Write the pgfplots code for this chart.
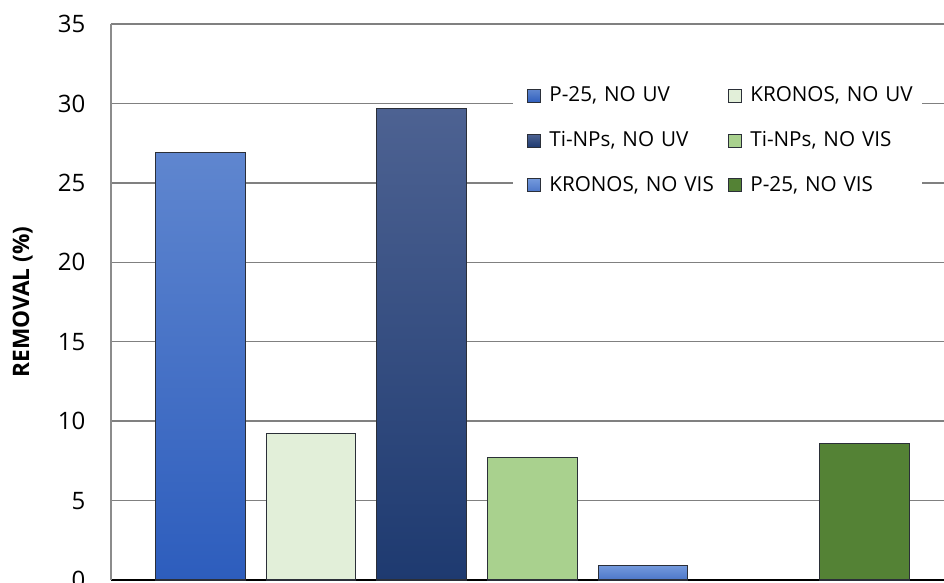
\documentclass[border=0pt]{standalone}
\usepackage{pgfplots}
\pgfplotsset{compat=1.18}
\usepackage{fontspec}
\setmainfont{Open Sans}

% bar fills
\definecolor{pTwentyFiveTop}{HTML}{5F86CF}
\definecolor{pTwentyFiveBot}{HTML}{2D5DBD}
\definecolor{kronosUV}{HTML}{E2EFD9}
\definecolor{tinpTop}{HTML}{4D6292}
\definecolor{tinpBot}{HTML}{1E3A70}
\definecolor{tinpVIS}{HTML}{A9D18E}
\definecolor{kronosVisTop}{HTML}{7399DC}
\definecolor{kronosVisBot}{HTML}{4C76C8}
\definecolor{pTwentyFiveVIS}{HTML}{548235}
\definecolor{barBorder}{HTML}{2B2F38}
\definecolor{gridGray}{HTML}{808080}
\definecolor{axisGray}{HTML}{8C8C8C}

\begin{document}
\begin{tikzpicture}
\begin{axis}[
  at={(0,0)}, anchor=south west,
  scale only axis, width=625pt, height=417pt,
  xmin=-0.81, xmax=6.72, ymin=0, ymax=35,
  ybar, bar width=0.81, bar shift=0pt,
  xtick=\empty,
  ytick={0,5,...,35},
  ytick style={draw=none},
  ymajorgrids,
  major grid style={color=gridGray, line width=1pt},
  axis x line*=bottom, axis y line*=left,
  x axis line style={-, black, line width=1.4pt},
  y axis line style={-, axisGray, line width=1.7pt},
  /pgf/number format/assume math mode=true,
  yticklabel style={anchor=east, inner sep=0pt, xshift=-18.8pt,
    font=\fontsize{18}{21}\selectfont},
  ylabel={REMOVAL (\%)},
  ylabel style={at={(axis description cs:-0.1056,0.5)}, anchor=center,
    font=\fontsize{17}{20}\selectfont\bfseries},
  legend columns=2,
  legend cell align=left,
  legend image code/.code={%
    \path (0pt,0pt) (16.25pt,0pt);
    \draw[#1] (6.5pt,-4.9pt) rectangle (16.25pt,4.9pt);},
  legend style={at={(0.4828,0.907)}, anchor=north west,
    draw=none, fill=white, inner xsep=4pt, inner ysep=7.5pt,
    row sep=17.9pt,
    font=\fontsize{15.5}{18}\selectfont,
    nodes={inner xsep=0pt, inner ysep=0pt, text height=12pt,
      text depth=3.5pt, text width=124.5pt, align=left, anchor=west},
    /tikz/every odd column/.append style={column sep=6pt},
    /tikz/column 2/.append style={column sep=3.2pt}},
]
\addplot[draw=barBorder, line width=0.8pt,
  top color=pTwentyFiveTop, bottom color=pTwentyFiveBot]
  coordinates {(0,26.9)};
\addlegendentry{P-25, NO UV}
\addplot[draw=barBorder, line width=0.8pt, fill=kronosUV]
  coordinates {(1,9.2)};
\addlegendentry{KRONOS, NO UV}
\addplot[draw=barBorder, line width=0.8pt,
  top color=tinpTop, bottom color=tinpBot]
  coordinates {(2,29.7)};
\addlegendentry{Ti-NPs, NO UV}
\addplot[draw=barBorder, line width=0.8pt, fill=tinpVIS]
  coordinates {(3,7.7)};
\addlegendentry{Ti-NPs, NO VIS}
\addplot[draw=barBorder, line width=0.8pt,
  top color=kronosVisTop, bottom color=kronosVisBot]
  coordinates {(4,0.9)};
\addlegendentry{KRONOS, NO VIS}
\addplot[draw=barBorder, line width=0.8pt, fill=pTwentyFiveVIS]
  coordinates {(6,8.6)};
\addlegendentry{P-25, NO VIS}
\end{axis}
\pgfresetboundingbox
\path[use as bounding box] (-83pt,-1.5pt) rectangle (625pt,435pt);
\end{tikzpicture}
\end{document}
